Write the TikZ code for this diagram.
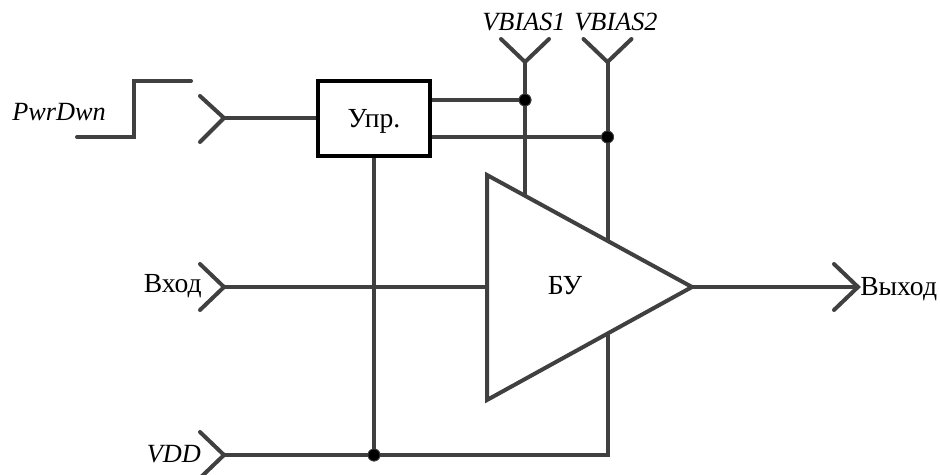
\documentclass[tikz,border=0pt]{standalone}
\usepackage{fontspec}
\setmainfont{Liberation Serif}
\usetikzlibrary{calc}
\tikzset{
  wire/.style={draw=wirecol,line width=3pt,line join=miter},
  port/.style={draw=wirecol,line width=3pt,line cap=round,line join=miter},
  junction/.style={circle,fill=black,draw=wirecol,line width=0.6pt,inner sep=0pt,minimum size=9pt},
  lbl/.style={inner sep=0pt,font=\fontsize{20.7pt}{24pt}\selectfont},
  ilbl/.style={inner sep=0pt,font=\fontsize{19.7pt}{24pt}\selectfont\itshape},
  ctrl/.style={draw=black,line width=3pt,fill=white,minimum width=84pt,minimum height=56.25pt,inner sep=0pt,line join=miter}
}
\definecolor{wirecol}{HTML}{404040}
\begin{document}
\begin{tikzpicture}[x=0.75pt,y=-0.75pt]
\useasboundingbox (0,0) rectangle (940,475);
% coordinates
\coordinate (pwrtip) at (224,118);
\coordinate (intip) at (224,287);
\coordinate (vddtip) at (224,455);
\coordinate (b1tip) at (525,62);
\coordinate (b2tip) at (607.5,62);
\coordinate (outtip) at (858,287);
\coordinate (ta) at (487,175);
\coordinate (tb) at (487,400);
\coordinate (tc) at (692,287);
\coordinate (ampin) at (487,287);
\coordinate (b1amp) at (525,195);
\coordinate (b2amp) at (607.5,241);
\coordinate (vddamp) at (607.5,334);
\coordinate (s0) at (77,137);
\coordinate (s1) at (134,137);
\coordinate (s2) at (134,81);
\coordinate (s3) at (191,81);
% control block
\node[ctrl] (upr) at (374,118) {};
\coordinate (uo1) at (430,100);
\coordinate (uo2) at (430,137);
\node[junction] (j1) at (525,100) {};
\node[junction] (j2) at (607.5,137) {};
\node[junction] (j3) at (374,455) {};
% wires
\draw[wire] (pwrtip) -- (upr.west);
\draw[wire] (uo1) -- (j1);
\draw[wire] (uo2) -- (j2);
\draw[wire] (b1tip) -- (b1amp);
\draw[wire] (b2tip) -- (b2amp);
\draw[wire] (upr.south) -- (j3);
\draw[wire] (intip) -- (ampin);
\draw[wire] (vddtip) -- (j3) -- (j3 -| vddamp) -- (vddamp);
\draw[wire] (tc) -- (outtip);
% amplifier
\draw[wire,line join=miter] (ta) -- (tb) -- (tc) -- cycle;
% redraw control box outline over stubs
\node[ctrl,fill=none] at (upr.center) {};
\node[junction] at (j1) {};
\node[junction] at (j2) {};
\node[junction] at (j3) {};
% ports
\draw[port] ($(pwrtip)+(-24,-22)$) -- (pwrtip) -- ($(pwrtip)+(-24,24)$);
\draw[port] ($(intip)+(-24,-23)$) -- (intip) -- ($(intip)+(-24,23)$);
\draw[port] ($(vddtip)+(-24,-23)$) -- (vddtip) -- ($(vddtip)+(-24,23)$);
\draw[port] ($(outtip)+(-24,-23)$) -- (outtip) -- ($(outtip)+(-24,23)$);
\draw[port] ($(b1tip)+(-24,-23)$) -- (b1tip) -- ($(b1tip)+(24,-23)$);
\draw[port] ($(b2tip)+(-24,-23)$) -- (b2tip) -- ($(b2tip)+(24,-23)$);
% step
\draw[port] (s0) -- (s1) -- (s2) -- (s3);
% labels
\node[lbl,anchor=base] (tupr) at (374,127) {Упр.};
\node[lbl,anchor=base] (tbu) at (565,294) {БУ};
\node[lbl,anchor=base east] (tin) at (202,292) {Вход};
\node[lbl,anchor=base west] (tout) at (860,295) {Выход};
\node[ilbl,anchor=base west] (tpwr) at (12,120) {PwrDwn};
\node[ilbl,anchor=base east] (tvdd) at (201,462) {VDD};
\node[ilbl,anchor=base] (tb1) at (524,30) {VBIAS1};
\node[ilbl,anchor=base] (tb2) at (616,30) {VBIAS2};
\end{tikzpicture}
\end{document}
